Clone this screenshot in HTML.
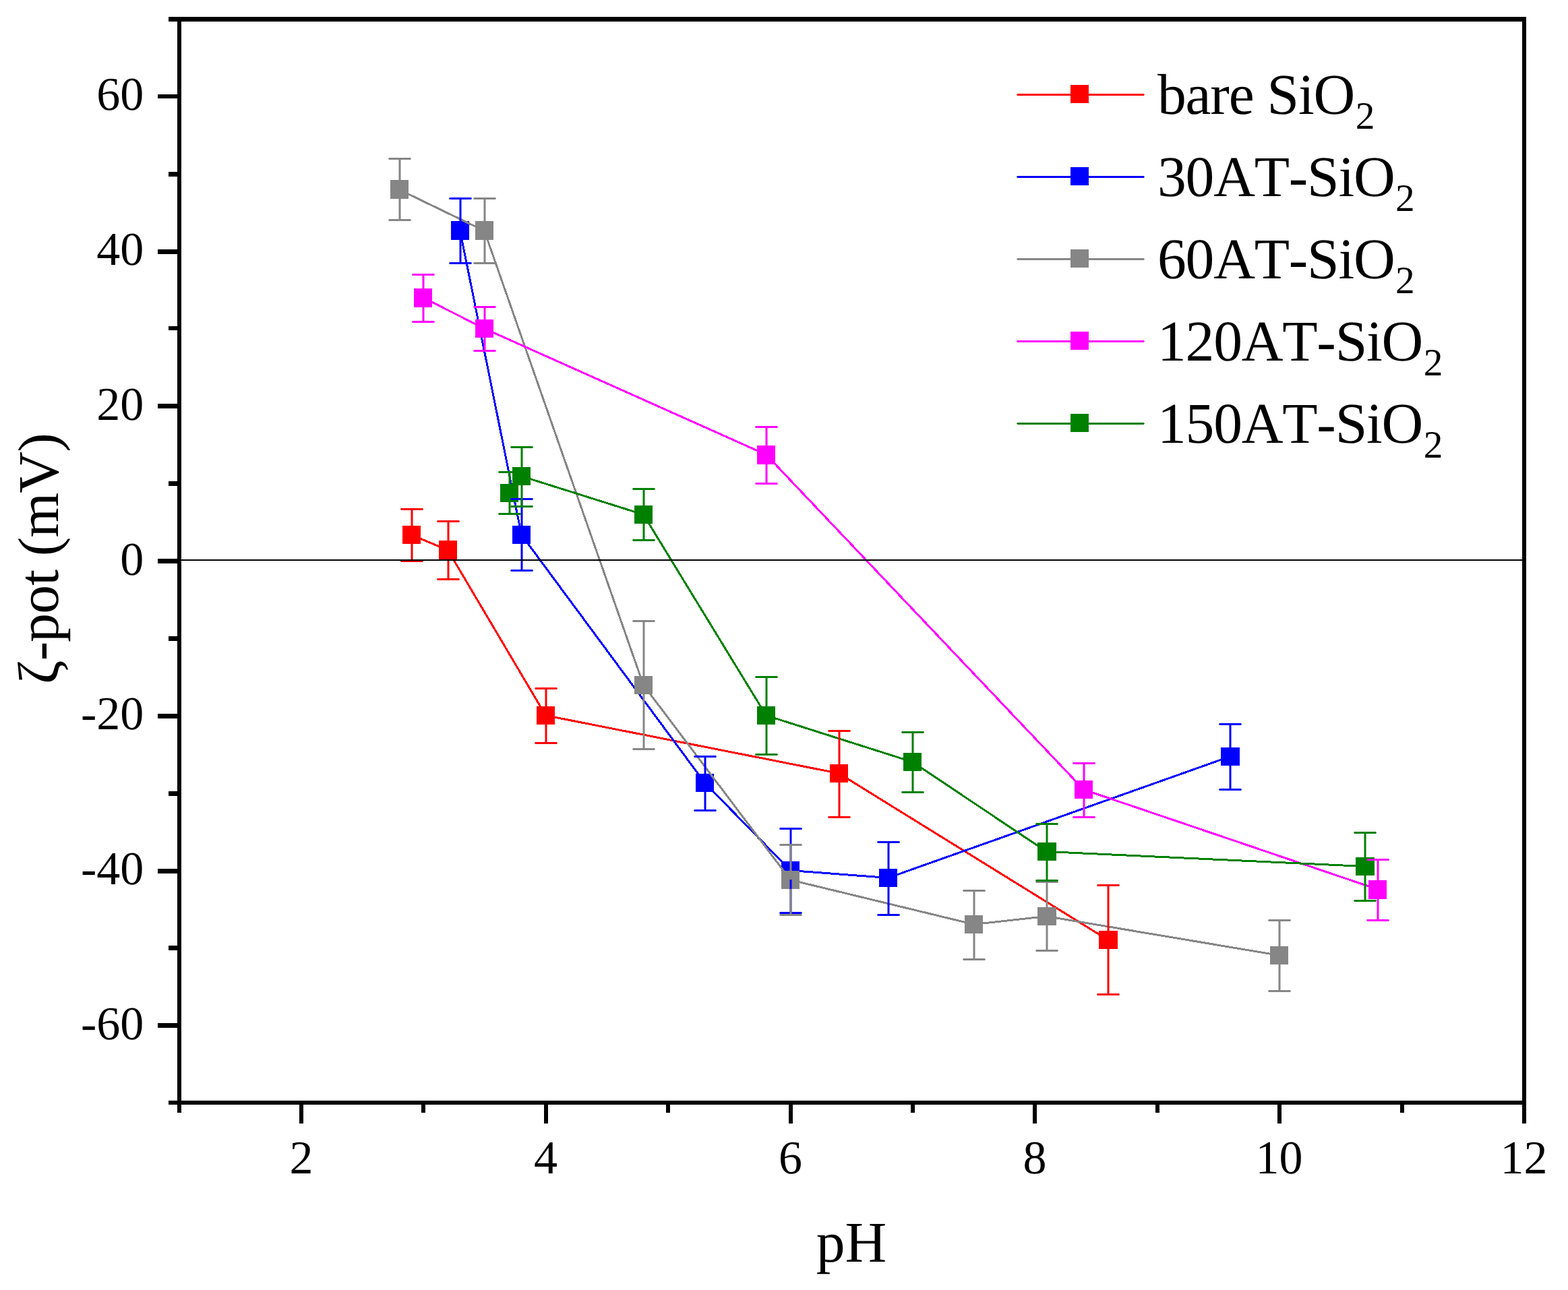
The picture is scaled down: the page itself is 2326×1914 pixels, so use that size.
<!DOCTYPE html>
<html lang="en"><head><meta charset="utf-8"><title>Zeta potential vs pH</title>
<style>
html,body{margin:0;padding:0;background:#fff;}
body{width:2326px;height:1914px;overflow:hidden;}
svg{display:block;}
text{font-family:"Liberation Serif","DejaVu Serif",serif;fill:#000;font-kerning:none;font-variant-ligatures:none;text-rendering:geometricPrecision;}
.tk{font-size:70px;}
.ti{font-size:85.56px;letter-spacing:-1.2px;}
.sub{font-size:57.3px;letter-spacing:0;}
</style></head><body>
<svg width="2326" height="1914" viewBox="0 0 2326 1914" role="img" aria-label="Zeta potential versus pH">
<rect x="0" y="0" width="2326" height="1914" fill="#ffffff"/>
<g shape-rendering="crispEdges">
<polyline points="610.5,793.5 664.5,816.5 809.5,1061.5 1244.5,1147.5 1643.5,1394.5" fill="none" stroke="#ff0000" stroke-width="3.0" stroke-linejoin="round"/>
<rect x="597" y="780" width="27" height="27" fill="#ff0000"/>
<rect x="651" y="802" width="27" height="28" fill="#ff0000"/>
<rect x="796" y="1048" width="27" height="27" fill="#ff0000"/>
<rect x="1231" y="1134" width="27" height="27" fill="#ff0000"/>
<rect x="1630" y="1381" width="28" height="27" fill="#ff0000"/>
<polyline points="682.5,342.5 773.5,793.5 1045.5,1161.5 1172.5,1291.5 1317.5,1302.5 1824.5,1122.5" fill="none" stroke="#0000ff" stroke-width="3.0" stroke-linejoin="round"/>
<rect x="669" y="328" width="27" height="28" fill="#0000ff"/>
<rect x="760" y="780" width="27" height="27" fill="#0000ff"/>
<rect x="1032" y="1148" width="27" height="27" fill="#0000ff"/>
<rect x="1159" y="1278" width="27" height="27" fill="#0000ff"/>
<rect x="1304" y="1289" width="27" height="27" fill="#0000ff"/>
<rect x="1811" y="1109" width="28" height="27" fill="#0000ff"/>
<polyline points="592.5,281.5 718.5,342.5 954.5,1016.5 1172.5,1305.5 1444.5,1371.5 1552.5,1359.5 1897.5,1417.5" fill="none" stroke="#868686" stroke-width="3.0" stroke-linejoin="round"/>
<rect x="579" y="267" width="27" height="28" fill="#868686"/>
<rect x="705" y="328" width="27" height="28" fill="#868686"/>
<rect x="941" y="1003" width="27" height="27" fill="#868686"/>
<rect x="1159" y="1292" width="27" height="27" fill="#868686"/>
<rect x="1431" y="1358" width="27" height="27" fill="#868686"/>
<rect x="1539" y="1346" width="28" height="27" fill="#868686"/>
<rect x="1884" y="1404" width="27" height="27" fill="#868686"/>
<polyline points="627.5,441.5 718.5,487.5 1136.5,674.5 1607.5,1171.5 2043.5,1319.5" fill="none" stroke="#ff00ff" stroke-width="3.0" stroke-linejoin="round"/>
<rect x="614" y="428" width="27" height="28" fill="#ff00ff"/>
<rect x="705" y="474" width="27" height="27" fill="#ff00ff"/>
<rect x="1123" y="661" width="27" height="28" fill="#ff00ff"/>
<rect x="1594" y="1158" width="27" height="27" fill="#ff00ff"/>
<rect x="2030" y="1306" width="27" height="28" fill="#ff00ff"/>
<polyline points="755.5,731.5 773.5,706.5 954.5,763.5 1136.5,1061.5 1353.5,1130.5 1552.5,1263.5 2024.5,1285.5" fill="none" stroke="#008000" stroke-width="3.0" stroke-linejoin="round"/>
<rect x="742" y="718" width="27" height="27" fill="#008000"/>
<rect x="760" y="693" width="27" height="27" fill="#008000"/>
<rect x="941" y="750" width="27" height="27" fill="#008000"/>
<rect x="1123" y="1048" width="27" height="27" fill="#008000"/>
<rect x="1340" y="1117" width="27" height="27" fill="#008000"/>
<rect x="1539" y="1250" width="28" height="27" fill="#008000"/>
<rect x="2011" y="1272" width="28" height="27" fill="#008000"/>
<g fill="#ff0000" shape-rendering="geometricPrecision">
<path d="M595 754h32l1 1.5l-1 1.5h-32l-1 -1.5zM595 831h32l1 1.5l-1 1.5h-32l-1 -1.5zM609.5 755h3V780h-3zM609.5 807h3V833h-3z"/>
<path d="M649 772h32l1 1.5l-1 1.5h-32l-1 -1.5zM649 858h32l1 1.5l-1 1.5h-32l-1 -1.5zM663.5 773h3V802h-3zM663.5 830h3V860h-3z"/>
<path d="M794 1020h32l1 1.5l-1 1.5h-32l-1 -1.5zM794 1101h32l1 1.5l-1 1.5h-32l-1 -1.5zM808.5 1021h3V1048h-3zM808.5 1075h3V1103h-3z"/>
<path d="M1229 1083h32l1 1.5l-1 1.5h-32l-1 -1.5zM1229 1211h32l1 1.5l-1 1.5h-32l-1 -1.5zM1243.5 1084h3V1134h-3zM1243.5 1161h3V1213h-3z"/>
<path d="M1628 1312h32l1 1.5l-1 1.5h-32l-1 -1.5zM1628 1474h32l1 1.5l-1 1.5h-32l-1 -1.5zM1642.5 1313h3V1381h-3zM1642.5 1408h3V1476h-3z"/>
</g>
<g fill="#0000ff" shape-rendering="geometricPrecision">
<path d="M667 293h32l1 1.5l-1 1.5h-32l-1 -1.5zM667 389h32l1 1.5l-1 1.5h-32l-1 -1.5zM681.5 294h3V328h-3zM681.5 356h3V391h-3z"/>
<path d="M758 739h32l1 1.5l-1 1.5h-32l-1 -1.5zM758 845h32l1 1.5l-1 1.5h-32l-1 -1.5zM772.5 740h3V780h-3zM772.5 807h3V847h-3z"/>
<path d="M1030 1121h32l1 1.5l-1 1.5h-32l-1 -1.5zM1030 1201h32l1 1.5l-1 1.5h-32l-1 -1.5zM1044.5 1122h3V1148h-3zM1044.5 1175h3V1203h-3z"/>
<path d="M1157 1228h32l1 1.5l-1 1.5h-32l-1 -1.5zM1157 1353h32l1 1.5l-1 1.5h-32l-1 -1.5zM1171.5 1229h3V1278h-3zM1171.5 1305h3V1355h-3z"/>
<path d="M1302 1248h32l1 1.5l-1 1.5h-32l-1 -1.5zM1302 1356h32l1 1.5l-1 1.5h-32l-1 -1.5zM1316.5 1249h3V1289h-3zM1316.5 1316h3V1358h-3z"/>
<path d="M1809 1073h32l1 1.5l-1 1.5h-32l-1 -1.5zM1809 1170h32l1 1.5l-1 1.5h-32l-1 -1.5zM1823.5 1074h3V1109h-3zM1823.5 1136h3V1172h-3z"/>
</g>
<g fill="#868686" shape-rendering="geometricPrecision">
<path d="M577 234h32l1 1.5l-1 1.5h-32l-1 -1.5zM577 325h32l1 1.5l-1 1.5h-32l-1 -1.5zM591.5 235h3V267h-3zM591.5 295h3V327h-3z"/>
<path d="M703 293h32l1 1.5l-1 1.5h-32l-1 -1.5zM703 389h32l1 1.5l-1 1.5h-32l-1 -1.5zM717.5 294h3V328h-3zM717.5 356h3V391h-3z"/>
<path d="M939 920h32l1 1.5l-1 1.5h-32l-1 -1.5zM939 1110h32l1 1.5l-1 1.5h-32l-1 -1.5zM953.5 921h3V1003h-3zM953.5 1030h3V1112h-3z"/>
<path d="M1157 1252h32l1 1.5l-1 1.5h-32l-1 -1.5zM1157 1356h32l1 1.5l-1 1.5h-32l-1 -1.5zM1171.5 1253h3V1292h-3zM1171.5 1319h3V1358h-3z"/>
<path d="M1429 1320h32l1 1.5l-1 1.5h-32l-1 -1.5zM1429 1422h32l1 1.5l-1 1.5h-32l-1 -1.5zM1443.5 1321h3V1358h-3zM1443.5 1385h3V1424h-3z"/>
<path d="M1537 1307h32l1 1.5l-1 1.5h-32l-1 -1.5zM1537 1409h32l1 1.5l-1 1.5h-32l-1 -1.5zM1551.5 1308h3V1346h-3zM1551.5 1373h3V1411h-3z"/>
<path d="M1882 1364h32l1 1.5l-1 1.5h-32l-1 -1.5zM1882 1469h32l1 1.5l-1 1.5h-32l-1 -1.5zM1896.5 1365h3V1404h-3zM1896.5 1431h3V1471h-3z"/>
</g>
<g fill="#ff00ff" shape-rendering="geometricPrecision">
<path d="M612 406h32l1 1.5l-1 1.5h-32l-1 -1.5zM612 476h32l1 1.5l-1 1.5h-32l-1 -1.5zM626.5 407h3V428h-3zM626.5 456h3V478h-3z"/>
<path d="M703 454h32l1 1.5l-1 1.5h-32l-1 -1.5zM703 519h32l1 1.5l-1 1.5h-32l-1 -1.5zM717.5 455h3V474h-3zM717.5 501h3V521h-3z"/>
<path d="M1121 632h32l1 1.5l-1 1.5h-32l-1 -1.5zM1121 716h32l1 1.5l-1 1.5h-32l-1 -1.5zM1135.5 633h3V661h-3zM1135.5 689h3V718h-3z"/>
<path d="M1592 1131h32l1 1.5l-1 1.5h-32l-1 -1.5zM1592 1211h32l1 1.5l-1 1.5h-32l-1 -1.5zM1606.5 1132h3V1158h-3zM1606.5 1185h3V1213h-3z"/>
<path d="M2028 1274h32l1 1.5l-1 1.5h-32l-1 -1.5zM2028 1364h32l1 1.5l-1 1.5h-32l-1 -1.5zM2042.5 1275h3V1306h-3zM2042.5 1334h3V1366h-3z"/>
</g>
<g fill="#008000" shape-rendering="geometricPrecision">
<path d="M740 699h32l1 1.5l-1 1.5h-32l-1 -1.5zM740 761h32l1 1.5l-1 1.5h-32l-1 -1.5zM754.5 700h3V718h-3zM754.5 745h3V763h-3z"/>
<path d="M758 662h32l1 1.5l-1 1.5h-32l-1 -1.5zM758 750h32l1 1.5l-1 1.5h-32l-1 -1.5zM772.5 663h3V693h-3zM772.5 720h3V752h-3z"/>
<path d="M939 724h32l1 1.5l-1 1.5h-32l-1 -1.5zM939 800h32l1 1.5l-1 1.5h-32l-1 -1.5zM953.5 725h3V750h-3zM953.5 777h3V802h-3z"/>
<path d="M1121 1003h32l1 1.5l-1 1.5h-32l-1 -1.5zM1121 1118h32l1 1.5l-1 1.5h-32l-1 -1.5zM1135.5 1004h3V1048h-3zM1135.5 1075h3V1120h-3z"/>
<path d="M1338 1085h32l1 1.5l-1 1.5h-32l-1 -1.5zM1338 1174h32l1 1.5l-1 1.5h-32l-1 -1.5zM1352.5 1086h3V1117h-3zM1352.5 1144h3V1176h-3z"/>
<path d="M1537 1221h32l1 1.5l-1 1.5h-32l-1 -1.5zM1537 1305h32l1 1.5l-1 1.5h-32l-1 -1.5zM1551.5 1222h3V1250h-3zM1551.5 1277h3V1307h-3z"/>
<path d="M2009 1234h32l1 1.5l-1 1.5h-32l-1 -1.5zM2009 1335h32l1 1.5l-1 1.5h-32l-1 -1.5zM2023.5 1235h3V1272h-3zM2023.5 1299h3V1337h-3z"/>
</g>
<line x1="265.8" y1="831" x2="2260.4" y2="831" stroke="#000" stroke-width="2"/>
<g fill="#000">
<rect x="263" y="25" width="6" height="1614"/>
<rect x="2258" y="25" width="6" height="1614"/>
<rect x="263" y="25" width="2001" height="7"/>
<rect x="263" y="1633" width="2001" height="6"/>
<rect x="263" y="1633" width="6" height="18"/>
<rect x="444" y="1633" width="6" height="34"/>
<rect x="625" y="1633" width="6" height="18"/>
<rect x="807" y="1633" width="6" height="34"/>
<rect x="988" y="1633" width="6" height="18"/>
<rect x="1170" y="1633" width="6" height="34"/>
<rect x="1351" y="1633" width="6" height="18"/>
<rect x="1532" y="1633" width="6" height="34"/>
<rect x="1714" y="1633" width="6" height="18"/>
<rect x="1895" y="1633" width="6" height="34"/>
<rect x="2077" y="1633" width="6" height="18"/>
<rect x="2258" y="1633" width="6" height="34"/>
<rect x="250" y="1633" width="16" height="6"/>
<rect x="234" y="1518" width="32" height="7"/>
<rect x="250" y="1403" width="16" height="7"/>
<rect x="234" y="1289" width="32" height="7"/>
<rect x="250" y="1174" width="16" height="7"/>
<rect x="234" y="1059" width="32" height="7"/>
<rect x="250" y="944" width="16" height="7"/>
<rect x="234" y="829" width="32" height="7"/>
<rect x="250" y="714" width="16" height="7"/>
<rect x="234" y="599" width="32" height="7"/>
<rect x="250" y="484" width="16" height="6"/>
<rect x="234" y="370" width="32" height="7"/>
<rect x="250" y="255" width="16" height="7"/>
<rect x="234" y="140" width="32" height="6"/>
<rect x="250" y="25" width="16" height="7"/>
</g>
</g>
<g class="tk" text-anchor="middle">
<text x="447.1" y="1741">2</text>
<text x="809.5" y="1741">4</text>
<text x="1172.4" y="1741">6</text>
<text x="1535.1" y="1741">8</text>
<text x="1897.5" y="1741">10</text>
<text x="2260.4" y="1741">12</text>
</g>
<g class="tk" text-anchor="end">
<text x="213.3" y="1541.9">-60</text>
<text x="213.3" y="1312.2">-40</text>
<text x="213.3" y="1082.4">-20</text>
<text x="213.3" y="852.6">0</text>
<text x="213.3" y="622.9">20</text>
<text x="213.3" y="393.1">40</text>
<text x="213.3" y="163.4">60</text>
</g>
<text class="ti" text-anchor="middle" x="1263" y="1872" style="letter-spacing:0">pH</text>
<text class="ti" text-anchor="middle" transform="translate(86.4 829) rotate(-90)" style="letter-spacing:-0.8px">ζ-pot (mV)</text>
<g shape-rendering="crispEdges">
<path fill="#ff0000" d="M1509 139h188l1 1.5l-1 1.5h-188l-1 -1.5z"/>
<rect x="1588" y="126" width="27" height="27" fill="#ff0000"/>
<path fill="#0000ff" d="M1509 261h188l1 1.5l-1 1.5h-188l-1 -1.5z"/>
<rect x="1588" y="248" width="27" height="27" fill="#0000ff"/>
<path fill="#868686" d="M1509 383h188l1 1.5l-1 1.5h-188l-1 -1.5z"/>
<rect x="1588" y="370" width="27" height="27" fill="#868686"/>
<path fill="#ff00ff" d="M1509 505h188l1 1.5l-1 1.5h-188l-1 -1.5z"/>
<rect x="1588" y="492" width="27" height="27" fill="#ff00ff"/>
<path fill="#008000" d="M1509 627h188l1 1.5l-1 1.5h-188l-1 -1.5z"/>
<rect x="1588" y="614" width="27" height="27" fill="#008000"/>
</g>
<text class="ti" x="1717" y="168.5">bare SiO<tspan class="sub" dx="1.5" dy="22.5">2</tspan></text>
<text class="ti" x="1717" y="290.5">30AT-SiO<tspan class="sub" dx="1.5" dy="22.5">2</tspan></text>
<text class="ti" x="1717" y="412.5">60AT-SiO<tspan class="sub" dx="1.5" dy="22.5">2</tspan></text>
<text class="ti" x="1717" y="534.5">120AT-SiO<tspan class="sub" dx="1.5" dy="22.5">2</tspan></text>
<text class="ti" x="1717" y="656.5">150AT-SiO<tspan class="sub" dx="1.5" dy="22.5">2</tspan></text>
</svg>
</body></html>
